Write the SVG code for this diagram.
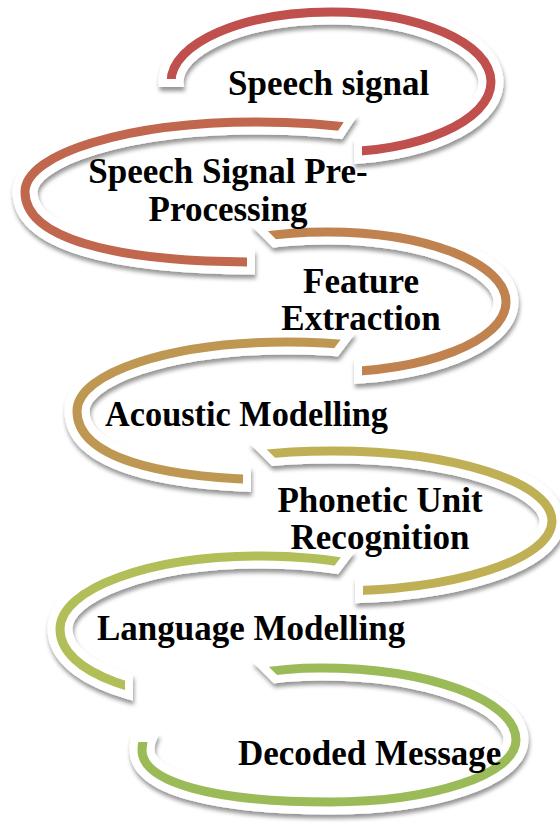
<svg xmlns="http://www.w3.org/2000/svg" width="560" height="829" viewBox="0 0 560 829">
<style>
.halo{fill:none;stroke:#ffffff;stroke-width:25}
.band{fill:none;stroke-width:9}
.label{font-family:"Liberation Serif","Times New Roman",serif;font-weight:bold;font-size:35px;fill:#000000}
</style>
<defs>
<filter id="sh" filterUnits="userSpaceOnUse" x="0" y="0" width="560" height="829">
<feGaussianBlur in="SourceAlpha" stdDeviation="2"/>
<feOffset dx="1" dy="4" result="b"/>
<feFlood flood-color="#000000" flood-opacity="0.42"/>
<feComposite in2="b" operator="in"/>
<feMerge><feMergeNode/><feMergeNode in="SourceGraphic"/></feMerge>
</filter>
<path id="r1" d="M171,82 C171,43.3 242.6,12 331,12 C419.4,12 491,43.3 491,82 C491,120.7 419.4,152 331,152 C242.6,152 171,120.7 171,82 Z"/>
<path id="r2" d="M25,192 C25,153.3 128.9,122 257,122 C385.1,122 489,153.3 489,192 C489,230.7 385.1,262 257,262 C108.5,262 25,236.8 25,192 Z"/>
<path id="r3" d="M148,302 C148,263.3 228.1,232 327,232 C425.9,232 506,263.3 506,302 C506,340.7 425.9,372 327,372 C228.1,372 148,340.7 148,302 Z"/>
<path id="r4" d="M77,411 C77,372.9 171,342 287,342 C403,342 497,372.9 497,411 C497,449.1 403,480 287,480 C152.6,480 77,455.2 77,411 Z"/>
<path id="r5" d="M112,521 C112,482.3 210.5,451 332,451 C453.5,451 552,482.3 552,521 C552,559.7 453.5,591 332,591 C210.5,591 112,559.7 112,521 Z"/>
<path id="r6" d="M60,629 C60,588.7 149.5,556 260,556 C370.5,556 460,588.7 460,629 C460,669.3 370.5,702 260,702 C140,702 60,672.8 60,629 Z"/>
<path id="r7" d="M142,750 C142,704.7 221.7,668 320,668 C428.3,668 516,700.2 516,740 C516,774.2 432.7,802 330,802 C213.4,802 142,782.2 142,750 Z"/>
<clipPath id="c1"><polygon points="-10,-10 570,-10 570,200 362,200 362,100 210,100 210,79 -10,79"/></clipPath>
<clipPath id="w1"><polygon points="-10,-10 570,-10 570,200 354,200 354,100 218,100 218,87 -10,87"/></clipPath>
<clipPath id="c2"><polygon points="-10,95 361.6,95 297.7,192 247,192 247,300 -10,300"/></clipPath>
<clipPath id="w2"><polygon points="-10,95 371.2,95 307.3,192 255,192 255,300 -10,300"/></clipPath>
<clipPath id="c3"><polygon points="251.8,215 570,215 570,400 362,400 362,302 338.8,302"/></clipPath>
<clipPath id="w3"><polygon points="240.4,215 570,215 570,400 354,400 354,302 327.4,302"/></clipPath>
<clipPath id="c4"><polygon points="-10,315 359.1,315 287.1,411 243,411 243,510 -10,510"/></clipPath>
<clipPath id="w4"><polygon points="-10,315 369.1,315 297.1,411 251,411 251,510 -10,510"/></clipPath>
<clipPath id="c5"><polygon points="247.3,430 570,430 570,625 363,625 363,521 338.3,521"/></clipPath>
<clipPath id="w5"><polygon points="235.9,430 570,430 570,625 355,625 355,521 326.9,521"/></clipPath>
<clipPath id="c6"><polygon points="-10,530 361.3,530 287,629 125,629 125,730 -10,730"/></clipPath>
<clipPath id="w6"><polygon points="-10,530 371.3,530 297,629 133,629 133,730 -10,730"/></clipPath>
<clipPath id="c7"><polygon points="242,640 570,640 570,840 -10,840 -10,742 344,742"/></clipPath>
<clipPath id="w7"><polygon points="230.6,640 570,640 570,840 -10,840 -10,734 324.6,734"/></clipPath>
</defs>
<rect width="560" height="829" fill="#ffffff"/>
<g id="connectors"/>
<g id="n7">
<g filter="url(#sh)"><use href="#r7" class="halo" clip-path="url(#w7)"/></g>
<use href="#r7" class="band" stroke="#9BBB59" clip-path="url(#c7)"/>
<text class="label" x="238" y="765">Decoded Message</text>
</g>
<g id="n6">
<g filter="url(#sh)"><use href="#r6" class="halo" clip-path="url(#w6)"/></g>
<use href="#r6" class="band" stroke="#B2BE58" clip-path="url(#c6)"/>
<text class="label" x="97" y="640">Language Modelling</text>
</g>
<g id="n5">
<g filter="url(#sh)"><use href="#r5" class="halo" clip-path="url(#w5)"/></g>
<use href="#r5" class="band" stroke="#BFB055" clip-path="url(#c5)"/>
<text class="label" x="380" y="512" text-anchor="middle">Phonetic Unit</text>
<text class="label" x="380" y="548.5" text-anchor="middle">Recognition</text>
</g>
<g id="n4">
<g filter="url(#sh)"><use href="#r4" class="halo" clip-path="url(#w4)"/></g>
<use href="#r4" class="band" stroke="#BE9752" clip-path="url(#c4)"/>
<text class="label" x="105" y="425.5" textLength="283" lengthAdjust="spacingAndGlyphs">Acoustic Modelling</text>
</g>
<g id="n3">
<g filter="url(#sh)"><use href="#r3" class="halo" clip-path="url(#w3)"/></g>
<use href="#r3" class="band" stroke="#C0834F" clip-path="url(#c3)"/>
<text class="label" x="361" y="293" text-anchor="middle">Feature</text>
<text class="label" x="361" y="329.5" text-anchor="middle">Extraction</text>
</g>
<g id="n2">
<g filter="url(#sh)"><use href="#r2" class="halo" clip-path="url(#w2)"/></g>
<use href="#r2" class="band" stroke="#C0674E" clip-path="url(#c2)"/>
<text class="label" x="228" y="183" text-anchor="middle">Speech Signal Pre-</text>
<text class="label" x="228" y="220.5" text-anchor="middle">Processing</text>
</g>
<g id="n1">
<g filter="url(#sh)"><use href="#r1" class="halo" clip-path="url(#w1)"/></g>
<use href="#r1" class="band" stroke="#C0504D" clip-path="url(#c1)"/>
<text class="label" x="228" y="95">Speech signal</text>
</g>
</svg>
